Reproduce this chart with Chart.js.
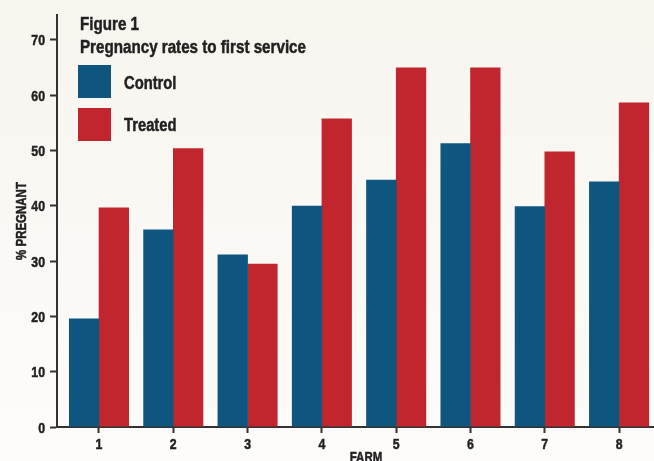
<!DOCTYPE html>
<html>
<head>
<meta charset="utf-8">
<script src="https://cdn.jsdelivr.net/npm/chart.js@4/dist/chart.umd.min.js"></script>
<style>
  html, body { margin: 0; padding: 0; background: #fbf9f5; }
  #wrap { width: 654px; height: 461px; }
</style>
</head>
<body>
<div id="wrap"><canvas id="chart-area"></canvas></div>
<script>
// data
var farms = ["1", "2", "3", "4", "5", "6", "7", "8"];
var control = [19.6, 35.7, 31.2, 40.0, 44.7, 51.3, 39.9, 44.4];
var treated = [39.7, 50.4, 29.5, 55.8, 65.0, 65.0, 49.8, 58.7];
var yTicks = [0, 10, 20, 30, 40, 50, 60, 70];
var titleLines = ["Figure 1", "Pregnancy rates to first service"];
var xTitle = "FARM";
var yTitle = "% PREGNANT";

var ink = "#231f20";

function pts(vals) {
  return farms.map(function (f, i) { return { x: Number(f), y: vals[i] }; });
}

// no narrow face installed, so squeeze Liberation Sans Bold by hand
function narrow(c, text, x, y, size, align, rot) {
  c.save();
  c.font = "bold " + size + "px 'Liberation Sans', Arial, sans-serif";
  c.fillStyle = ink;
  c.strokeStyle = ink;
  c.lineWidth = 0.5;
  c.textAlign = align || "left";
  c.textBaseline = "alphabetic";
  c.translate(x, y);
  if (rot) c.rotate(rot);
  c.scale(0.82, 1);
  c.fillText(text, 0, 0);
  c.strokeText(text, 0, 0);
  c.restore();
}

var decor = {
  id: "decor",
  beforeDraw: function (chart) {
    var c = chart.ctx;
    var g = c.createLinearGradient(0, 0, 0, chart.height);
    g.addColorStop(0, "#f8f5ef");
    g.addColorStop(1, "#fdfcfa");
    c.save();
    c.fillStyle = g;
    c.fillRect(0, 0, chart.width, chart.height);
    c.restore();
  },
  afterDraw: function (chart) {
    var c = chart.ctx;
    var xs = chart.scales.x, ys = chart.scales.y;

    // tick labels
    ys.ticks.forEach(function (t) {
      narrow(c, String(t.value), 45, ys.getPixelForValue(t.value) + 5.5, 15, "right");
    });
    xs.ticks.forEach(function (t) {
      narrow(c, String(t.value), xs.getPixelForValue(t.value), 449, 15, "center");
    });

    // axis titles
    narrow(c, yTitle, 26, 221, 14, "center", -Math.PI / 2);
    narrow(c, xTitle, 366, 462, 14, "center");

    // heading
    narrow(c, titleLines[0], 80, 30, 18.5);
    narrow(c, titleLines[1], 80, 53, 18.5);

    // legend
    chart.data.datasets.forEach(function (ds, i) {
      var y = 65 + i * 43;
      c.save();
      c.fillStyle = ds.backgroundColor;
      c.fillRect(78, y, 33, 33);
      c.restore();
      narrow(c, ds.label, 124, y + 24 - i, 18);
    });
  }
};

window.onload = function () {
  var ctx = document.getElementById("chart-area").getContext("2d");
  new Chart(ctx, {
    type: "bar",
    data: {
      datasets: [
        { label: "Control", data: pts(control), backgroundColor: "#0e567f" },
        { label: "Treated", data: pts(treated), backgroundColor: "#c1262f" }
      ]
    },
    plugins: [decor],
    options: {
      responsive: true,
      maintainAspectRatio: false,
      animation: false,
      layout: { padding: { top: 15, left: 0, right: 0, bottom: 0 } },
      datasets: { bar: { categoryPercentage: 0.8, barPercentage: 1.02, borderWidth: 0 } },
      plugins: { legend: { display: false }, tooltip: { enabled: false } },
      scales: {
        x: {
          type: "linear",
          min: 0.435,
          max: 8.47,
          offset: false,
          afterFit: function (s) { s.height = 34; },
          afterBuildTicks: function (s) {
            s.ticks = farms.map(function (f) { return { value: Number(f) }; });
          },
          ticks: { display: false },
          grid: { offset: false, drawOnChartArea: false, drawTicks: true, tickLength: 6, tickColor: "#333", tickWidth: 2 },
          border: { display: true, color: "#333", width: 2 }
        },
        y: {
          min: 0,
          max: 74.5,
          afterFit: function (s) { s.width = 57; },
          afterBuildTicks: function (s) {
            s.ticks = yTicks.map(function (v) { return { value: v }; });
          },
          ticks: { display: false },
          grid: { drawOnChartArea: false, drawTicks: true, tickLength: 7, tickColor: "#333", tickWidth: 2 },
          border: { display: true, color: "#333", width: 2 }
        }
      }
    }
  });
};
</script>
</body>
</html>
